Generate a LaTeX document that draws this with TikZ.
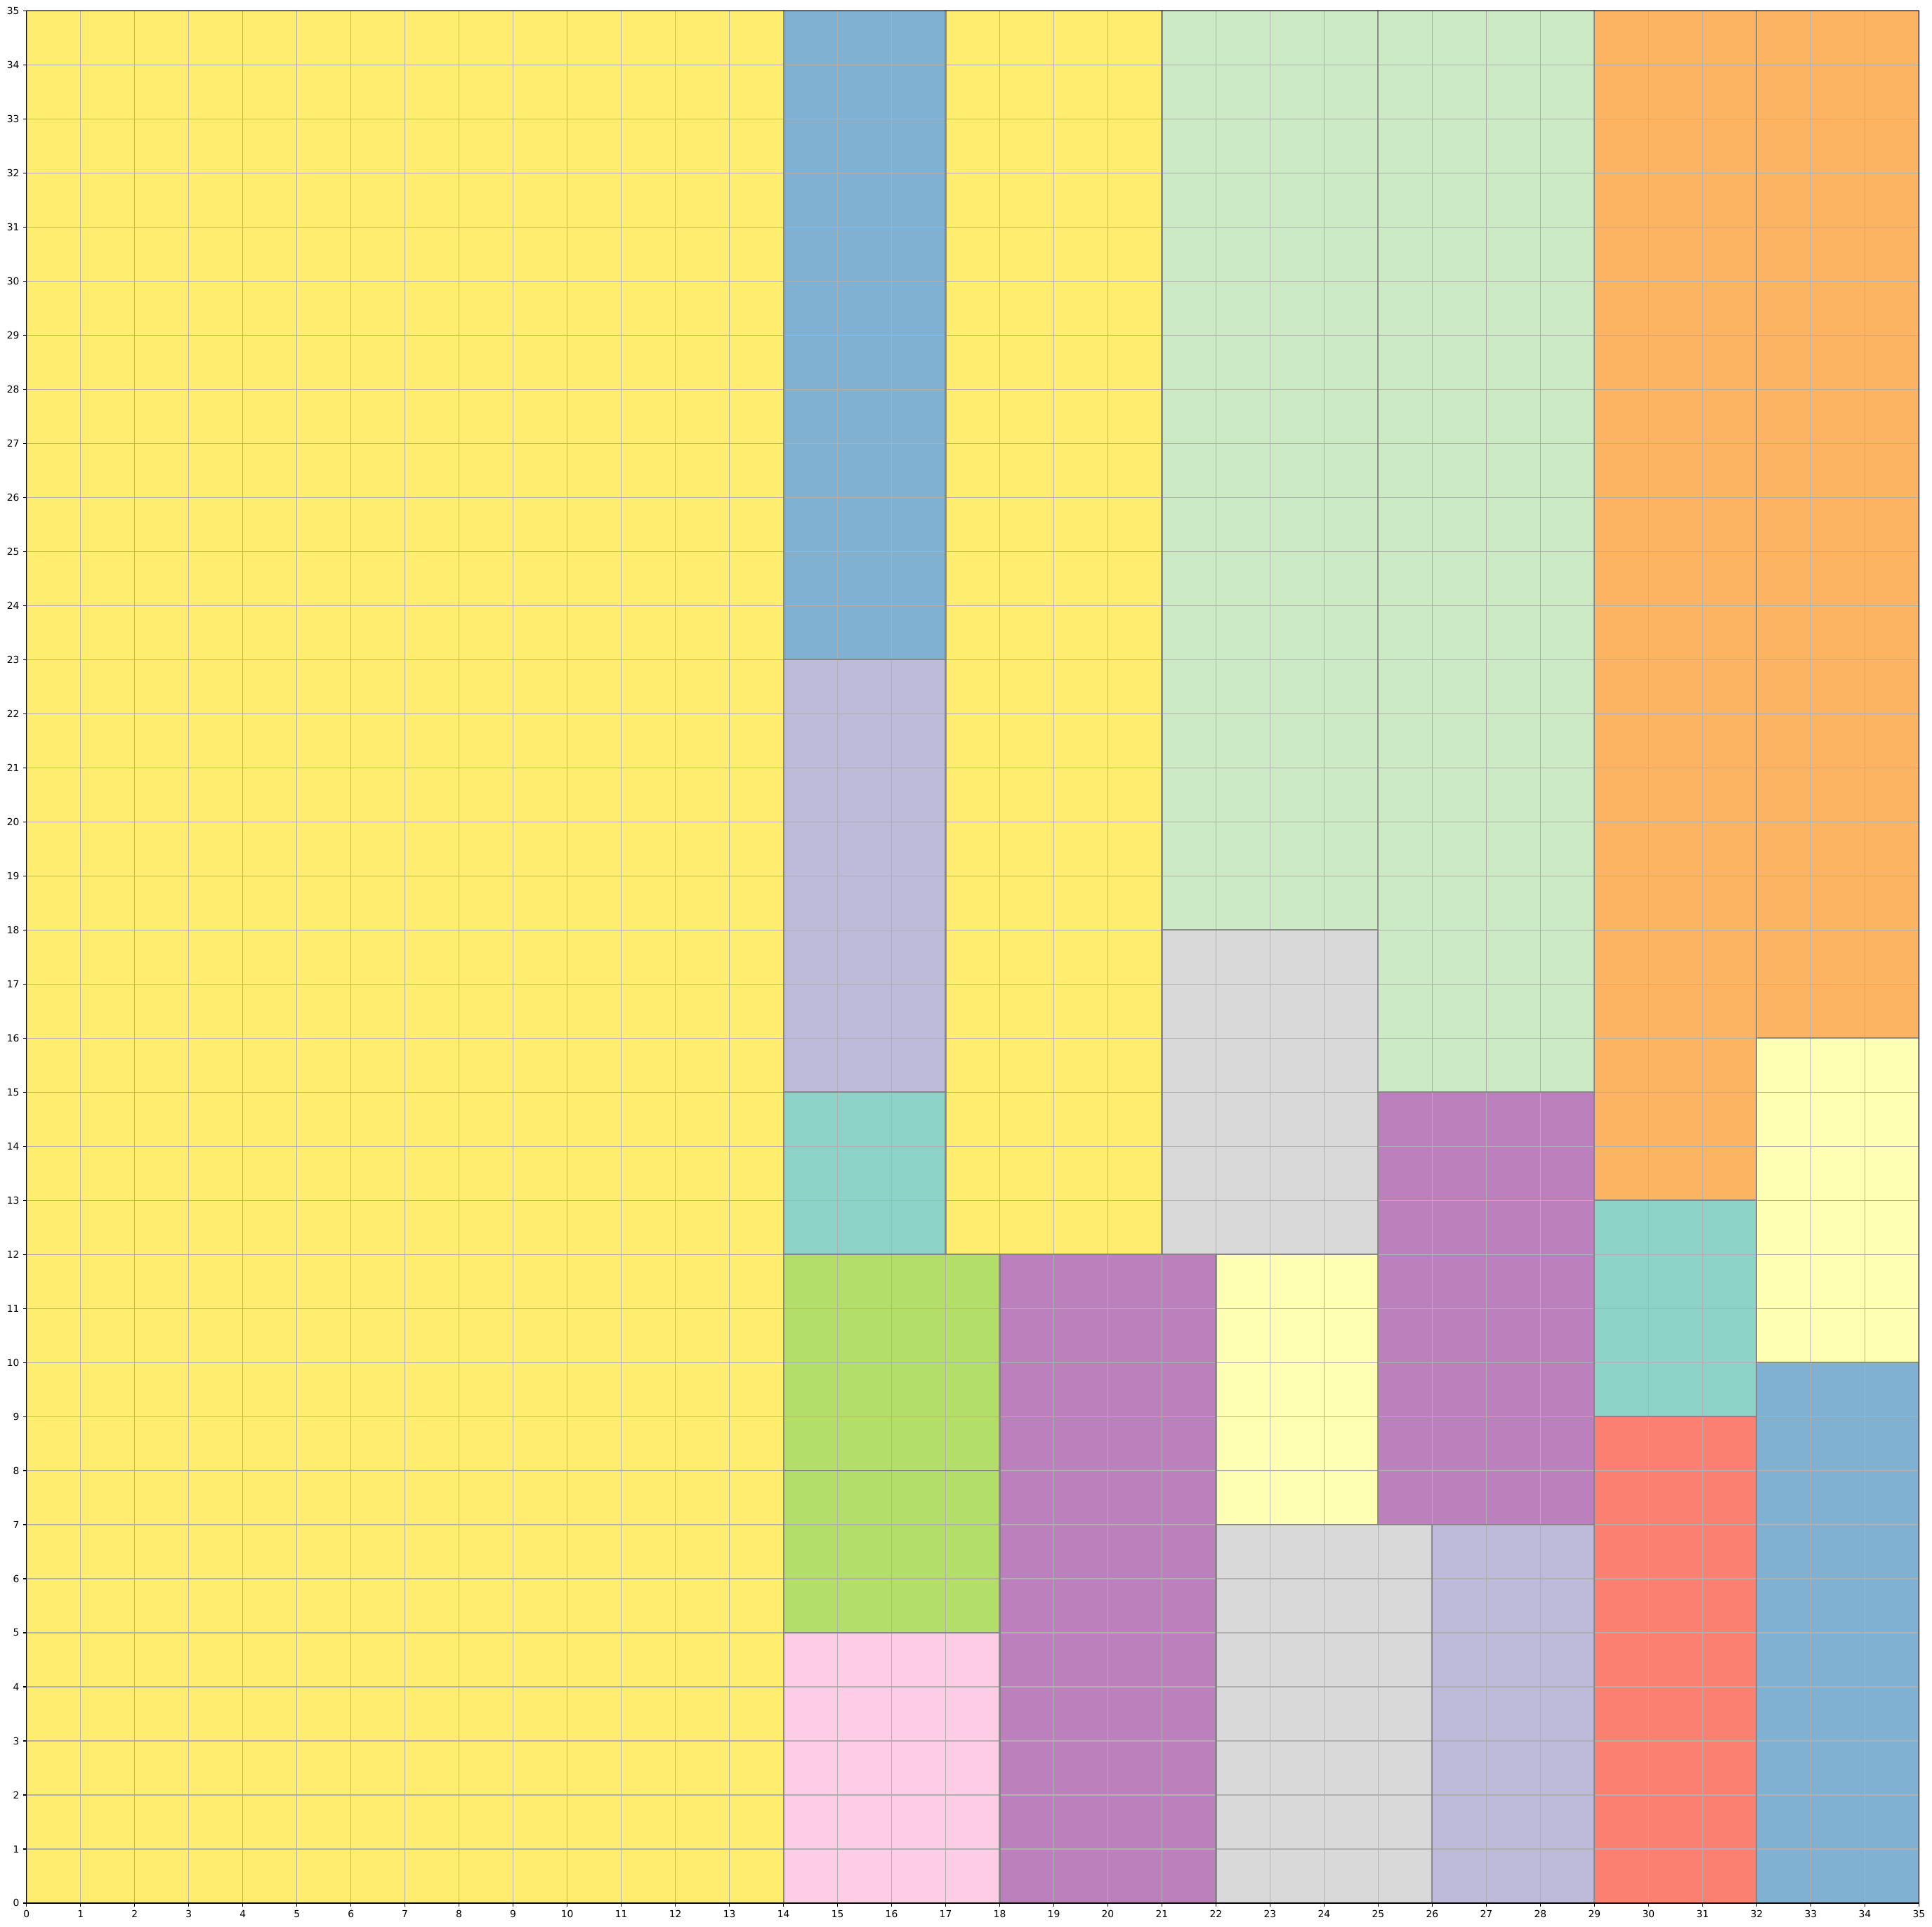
\documentclass[tikz,border=0pt]{standalone}
\usepackage{fontspec}
\setmainfont{DejaVu Sans}
\usepackage{tikz}

\definecolor{setTeal}{HTML}{8DD3C7}
\definecolor{setLemon}{HTML}{FFFFB3}
\definecolor{setLavender}{HTML}{BEBADA}
\definecolor{setSalmon}{HTML}{FB8072}
\definecolor{setBlue}{HTML}{80B1D3}
\definecolor{setOrange}{HTML}{FDB462}
\definecolor{setGreen}{HTML}{B3DE69}
\definecolor{setPink}{HTML}{FCCDE5}
\definecolor{setGrey}{HTML}{D9D9D9}
\definecolor{setPurple}{HTML}{BC80BD}
\definecolor{setMint}{HTML}{CCEBC5}
\definecolor{setYellow}{HTML}{FFED6F}
\definecolor{gridgray}{HTML}{B0B0B0}

\begin{document}
\begin{tikzpicture}[
    x=1.9555cm, y=1.9555cm,
    every node/.style={font=\fontsize{10}{12}\selectfont},
    cell/.style={draw=gray, draw opacity=0.6, line width=1.5pt},
    gridline/.style={draw=gridgray, line width=0.8pt},
    tick/.style={line width=0.8pt},
    ticklabel/.style={inner sep=0pt}
]
\useasboundingbox (-0.490,-0.442) rectangle (35.243,35.200);

% placed pieces: x/y/w/h/colour
\def\pieces{0/0/14/35/setYellow, 14/23/3/12/setBlue, 14/15/3/8/setLavender,
    14/12/3/3/setTeal, 17/12/4/23/setYellow, 21/18/4/17/setMint,
    25/15/4/20/setMint, 29/13/3/22/setOrange, 32/16/3/19/setOrange,
    14/8/4/4/setGreen, 14/5/4/3/setGreen, 14/0/4/5/setPink,
    18/0/4/12/setPurple, 21/12/4/6/setGrey, 22/7/3/5/setLemon,
    25/7/4/8/setPurple, 22/0/4/7/setGrey, 26/0/3/7/setLavender,
    29/9/3/4/setTeal, 29/0/3/9/setSalmon, 32/10/3/6/setLemon,
    32/0/3/10/setBlue}

\foreach \x/\y/\w/\h/\c in \pieces
    \fill[\c] (\x,\y) rectangle ++(\w,\h);

% grid
\foreach \i in {1,...,34} {
    \draw[gridline] (\i,0) -- (\i,35);
    \draw[gridline] (0,\i) -- (35,\i);
}

% piece outlines
\foreach \x/\y/\w/\h/\c in \pieces
    \draw[cell] (\x,\y) rectangle ++(\w,\h);

% axes
\draw[line width=0.8pt] (0,0) rectangle (35,35);
\foreach \i in {0,...,35} {
    \draw[tick] (\i,0) -- ++(0,-3.5pt) node[below=3.5pt, ticklabel] (xl\i) {\i};
    \draw[tick] (0,\i) -- ++(-3.5pt,0) node[left=3.5pt, ticklabel] (yl\i) {\i};
}

\end{tikzpicture}
\end{document}
